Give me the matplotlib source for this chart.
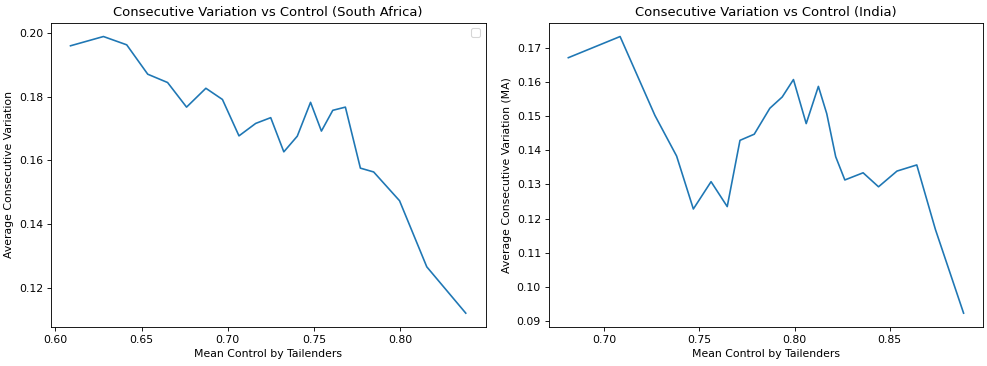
import matplotlib
matplotlib.use("Agg")
import matplotlib.pyplot as plt

# South Africa: mean control vs average consecutive variation
sa_control = [0.6088, 0.6279, 0.6414, 0.6536, 0.6651, 0.6761, 0.6873, 0.6969,
              0.7065, 0.7162, 0.7249, 0.7325, 0.7403, 0.7480, 0.7543, 0.7609,
              0.7682, 0.7769, 0.7846, 0.7996, 0.8154, 0.8380]
sa_variation = [0.1959, 0.1988, 0.1962, 0.1870, 0.1844, 0.1767, 0.1826, 0.1791,
                0.1677, 0.1716, 0.1734, 0.1627, 0.1676, 0.1782, 0.1692, 0.1757,
                0.1767, 0.1576, 0.1564, 0.1474, 0.1267, 0.1122]

# India: moving-average version
in_control = [0.6811, 0.7083, 0.7266, 0.7380, 0.7468, 0.7561, 0.7646, 0.7713,
              0.7788, 0.7870, 0.7935, 0.7994, 0.8061, 0.8125, 0.8169, 0.8216,
              0.8264, 0.8360, 0.8441, 0.8538, 0.8642, 0.8740, 0.8888]
in_variation = [0.1671, 0.1733, 0.1502, 0.1383, 0.1228, 0.1308, 0.1235, 0.1429,
                0.1447, 0.1523, 0.1556, 0.1607, 0.1478, 0.1587, 0.1507, 0.1381,
                0.1313, 0.1334, 0.1293, 0.1339, 0.1357, 0.1168, 0.0923]

# reference looks like a larger figure scaled down, so render at a lower dpi
DPI = 78.7
fig, (ax1, ax2) = plt.subplots(1, 2, figsize=(987 / DPI, 366 / DPI), dpi=DPI)
fig.subplots_adjust(left=0.0514, right=0.9963, top=0.938, bottom=0.1066, wspace=0.145)

ax1.plot(sa_control, sa_variation)
ax1.set_title("Consecutive Variation vs Control (South Africa)")
ax1.set_xlabel("Mean Control by Tailenders")
ax1.set_ylabel("Average Consecutive Variation")
ax1.legend()

ax2.plot(in_control, in_variation)
ax2.set_title("Consecutive Variation vs Control (India)")
ax2.set_xlabel("Mean Control by Tailenders")
ax2.set_ylabel("Average Consecutive Variation (MA)")

fig.savefig("out.png", dpi=DPI)
